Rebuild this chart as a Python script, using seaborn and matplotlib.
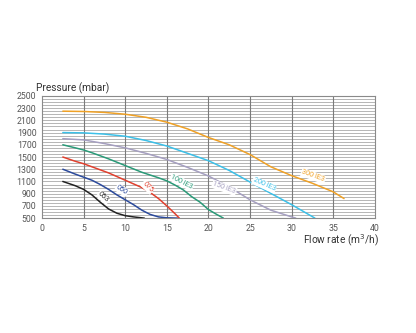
import matplotlib
matplotlib.use("Agg")
import matplotlib.pyplot as plt
import seaborn as sns
import pandas as pd
import numpy as np

sns.set_theme(style="white")
plt.rcParams['font.family'] = ['Roboto', 'DejaVu Sans']

names = ["053", "050", "075", "100 IE3", "150 IE3", "200 IE3", "300 IE3"]
q053 = [2.5, 4, 5, 6, 7, 8, 9, 10, 11, 12.3]
p053 = [1100, 1030, 970, 880, 760, 650, 580, 540, 520, 500]
q050 = [2.5, 4, 5, 6, 7, 8, 9, 10, 11, 12, 13, 14, 15, 16.3]
p050 = [1300, 1220, 1170, 1120, 1050, 970, 880, 800, 720, 630, 560, 520, 505, 500]
q075 = [2.5, 4, 5, 6, 7, 8, 9, 10, 11, 12, 13, 14, 15, 16, 16.5]
p075 = [1500, 1430, 1390, 1340, 1290, 1240, 1180, 1120, 1060, 1000, 920, 820, 700, 570, 500]
q100 = [2.5, 4, 5, 6, 8, 10, 12, 14, 15, 16, 17, 18, 19, 20, 21, 21.8]
p100 = [1700, 1650, 1615, 1570, 1470, 1360, 1250, 1160, 1110, 1040, 960, 850, 760, 640, 560, 500]
q150 = [2.5, 5, 7.5, 10, 12.5, 15, 17.5, 20, 22.5, 25, 27.5, 30, 30.5]
p150 = [1800, 1780, 1720, 1650, 1560, 1460, 1330, 1190, 1010, 800, 630, 520, 500]
q200 = [2.5, 5, 7.5, 10, 12.5, 15, 17.5, 20, 22.5, 25, 27.5, 30, 32.8]
p200 = [1900, 1895, 1875, 1840, 1770, 1680, 1560, 1440, 1280, 1090, 905, 720, 500]
q300 = [2.5, 5, 7.5, 10, 12.5, 15, 17.5, 20, 22.5, 25, 27.5, 30, 32.5, 35, 36.3]
p300 = [2250, 2245, 2230, 2200, 2150, 2070, 1960, 1820, 1700, 1540, 1340, 1195, 1070, 930, 820]

colors = ["#222222", "#2b4a9c", "#e0402e", "#2a9a78", "#a59fc0", "#3cc0e8", "#efa126"]
label_pos = [(7.4, 840, -42), (9.6, 960, -33), (12.7, 1010, -45), (16.8, 1090, -27),
             (21.9, 995, -20), (26.7, 1045, -24), (32.6, 1190, -20)]

xticks = [0, 5, 10, 15, 20, 25, 30, 35, 40]
yticks = [500, 700, 900, 1100, 1300, 1500, 1700, 1900, 2100, 2300, 2500]

series = [(q053, p053), (q050, p050), (q075, p075), (q100, p100),
          (q150, p150), (q200, p200), (q300, p300)]
frames = []
for n, (q, p) in zip(names, series):
    frames.append(pd.DataFrame({"flow": q, "pressure": p, "pump": n}))
df = pd.concat(frames, ignore_index=True)

fig = plt.figure(figsize=(4.16, 3.33), dpi=100)
ax = fig.add_axes([0.101, 0.345, 0.800, 0.367])

# grid
for y in np.arange(500, 2501, 50):
    ax.axhline(y, color="#b5b5b5", lw=0.7, zorder=0)
for x in xticks[1:-1]:
    ax.axvline(x, color="#7a7a7a", lw=0.8, zorder=0.5)

sns.lineplot(data=df, x="flow", y="pressure", hue="pump", palette=dict(zip(names, colors)),
             sort=False, estimator=None, lw=1.1, legend=False, ax=ax, zorder=3)

for n, c, (lx, ly, rot) in zip(names, colors, label_pos):
    ax.text(lx, ly, n, color=c, fontsize=5.2, rotation=rot, ha="center", va="center",
            rotation_mode="anchor", zorder=4,
            bbox=dict(boxstyle="square,pad=0.1", fc="white", ec="none"))

ax.set_xlim(0, 40)
ax.set_ylim(500, 2500)
ax.set_xticks(xticks)
ax.set_yticks(yticks)
ax.tick_params(axis="both", length=0, labelsize=6.3, labelcolor="#555555", pad=4)
ax.set_xlabel("")
ax.set_ylabel("")
for s in ax.spines.values():
    s.set_color("#8a8a8a")
    s.set_linewidth(0.8)

fig.text(36 / 416, 1 - 88 / 333, "Pressure (mbar)", fontsize=7.3, color="#333333",
         ha="left", va="center")
fig.text(379 / 416, 1 - 240 / 333, "Flow rate (m$^3$/h)", fontsize=7.3, color="#333333",
         ha="right", va="center")

fig.savefig("out.png", dpi=100, facecolor="white")
